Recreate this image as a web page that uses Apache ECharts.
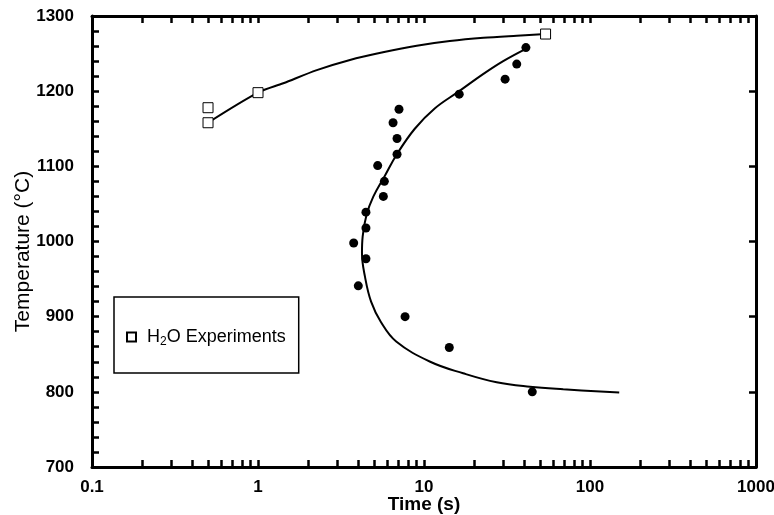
<!DOCTYPE html>
<html>
<head>
<meta charset="utf-8">
<script src="https://cdn.jsdelivr.net/npm/echarts@6/dist/echarts.min.js"></script>
<style>
  html, body { margin: 0; padding: 0; background: #fff; }
  #vis { width: 774px; height: 515px; }
</style>
</head>
<body>
<div id="vis"></div>
<script>
// H2O experiments (open squares) and the curve drawn through them
const h2oPoints = [[0.5, 1178], [0.5, 1158], [1, 1198], [54, 1276]];
const h2oCurve = [
  [0.5, 1158], [1, 1198], [1.42, 1210.5], [2.26, 1228], [3.58, 1241.5],
  [5.66, 1251.7], [9.04, 1260.5], [14.3, 1266.7], [22.8, 1271], [36.2, 1273.8], [54, 1276]
];

// filled circles and the C-shaped curve
const expPoints = [
  [41.1, 1258], [36.2, 1236], [30.8, 1216], [16.3, 1196], [7.07, 1176],
  [6.51, 1158], [6.88, 1137], [6.88, 1116], [5.26, 1101], [5.77, 1080],
  [5.69, 1060], [4.47, 1039], [4.47, 1018], [3.77, 998], [4.47, 977],
  [4.02, 941], [7.69, 900], [14.2, 859], [44.9, 800]
];
const cCurve = [
  [40.8, 1256], [30.0, 1240], [22.8, 1223], [16.3, 1200], [11.6, 1177],
  [8.8, 1150], [6.88, 1116.4], [5.77, 1086.2], [4.95, 1059.6],
  [4.5, 1035], [4.27, 1006.4], [4.23, 984.3], [4.41, 953.2], [4.8, 920],
  [5.5, 893], [6.8, 867], [10.9, 840], [17.2, 824.7],
  [27.4, 812.7], [43.5, 806.8], [69.0, 803.4], [150, 799]
];

const timeLabels = [0.1, 1, 10, 100, 1000];
const timeTicks = [
  0.1, 0.2, 0.3, 0.4, 0.5, 0.6, 0.7, 0.8, 0.9,
  1, 2, 3, 4, 5, 6, 7, 8, 9,
  10, 20, 30, 40, 50, 60, 70, 80, 90,
  100, 200, 300, 400, 500, 600, 700, 800, 900, 1000
];

const chart = echarts.init(document.getElementById('vis'), null, { renderer: 'canvas' });

const tickStyle = { color: '#000', width: 2.5 };
const lineStyle = { color: '#000', width: 3 };
const labelFont = 'Liberation Sans, Arial, sans-serif';

chart.setOption({
  animation: false,
  backgroundColor: '#fff',
  grid: { left: 92, right: 18, top: 16, bottom: 48, outerBoundsMode: 'none', containLabel: false },
  legend: {
    data: ['H2O Experiments'],
    left: 114,
    top: 297,
    orient: 'vertical',
    padding: [29, 13, 25, 12],
    borderColor: '#000',
    borderWidth: 1.5,
    itemWidth: 9,
    itemHeight: 9,
    formatter: () => 'H{sub|2}O Experiments',
    textStyle: {
      fontFamily: labelFont,
      fontSize: 18,
      color: '#000',
      lineHeight: 22,
      padding: [0, 0, 0, 6],
      rich: {
        sub: { fontSize: 12, verticalAlign: 'bottom', lineHeight: 15, fontFamily: labelFont }
      }
    }
  },
  xAxis: [
    {
      type: 'log',
      logBase: 10,
      min: 0.1,
      max: 1000,
      position: 'bottom',
      name: 'Time (s)',
      nameLocation: 'middle',
      nameGap: 28,
      nameMoveOverlap: false,
      nameTextStyle: { fontFamily: labelFont, fontWeight: 'bold', fontSize: 19, color: '#000' },
      axisLine: { lineStyle: lineStyle },
      axisTick: { inside: true, length: 7, lineStyle: tickStyle, customValues: timeTicks },
      axisLabel: {
        customValues: timeLabels,
        margin: 12,
        color: '#000',
        fontFamily: labelFont,
        fontWeight: 'bold',
        fontSize: 17,
        formatter: v => String(v)
      },
      splitLine: { show: false }
    },
    {
      type: 'log',
      logBase: 10,
      min: 0.1,
      max: 1000,
      position: 'top',
      axisLine: { lineStyle: lineStyle },
      axisTick: { inside: true, length: 7, lineStyle: tickStyle, customValues: timeTicks },
      axisLabel: { show: false },
      splitLine: { show: false }
    }
  ],
  yAxis: [
    {
      type: 'value',
      min: 700,
      max: 1300,
      interval: 100,
      position: 'left',
      name: 'Temperature (°C)',
      nameLocation: 'middle',
      nameGap: 58,
      nameMoveOverlap: false,
      nameTextStyle: { fontFamily: labelFont, fontSize: 21, color: '#000', padding: [0, 20, 0, 0] },
      axisLine: { lineStyle: lineStyle },
      axisTick: { inside: true, length: 7, lineStyle: tickStyle },
      minorTick: { show: true, splitNumber: 5, length: 7, lineStyle: tickStyle },
      axisLabel: {
        margin: 18,
        color: '#000',
        fontFamily: labelFont,
        fontWeight: 'bold',
        fontSize: 17,
        formatter: v => String(v)
      },
      splitLine: { show: false }
    },
    {
      type: 'value',
      min: 700,
      max: 1300,
      interval: 100,
      position: 'right',
      axisLine: { lineStyle: lineStyle },
      axisTick: { inside: true, length: 7, lineStyle: tickStyle },
      axisLabel: { show: false },
      splitLine: { show: false }
    }
  ],
  series: [
    {
      name: 'H2O fit',
      type: 'line',
      data: h2oCurve,
      smooth: 0.3,
      showSymbol: false,
      lineStyle: { color: '#000', width: 2 },
      z: 2
    },
    {
      name: 'C fit',
      type: 'line',
      data: cCurve,
      smooth: 0.4,
      showSymbol: false,
      lineStyle: { color: '#000', width: 2 },
      z: 2
    },
    {
      name: 'Experiments',
      type: 'scatter',
      data: expPoints,
      symbol: 'circle',
      symbolSize: 9,
      itemStyle: { color: '#000', opacity: 1 },
      z: 3
    },
    {
      name: 'H2O Experiments',
      type: 'scatter',
      data: h2oPoints,
      symbol: 'rect',
      symbolSize: 10,
      itemStyle: { color: '#fff', borderColor: '#000', borderWidth: 1, opacity: 1 },
      z: 4
    }
  ]
});
</script>
</body>
</html>
